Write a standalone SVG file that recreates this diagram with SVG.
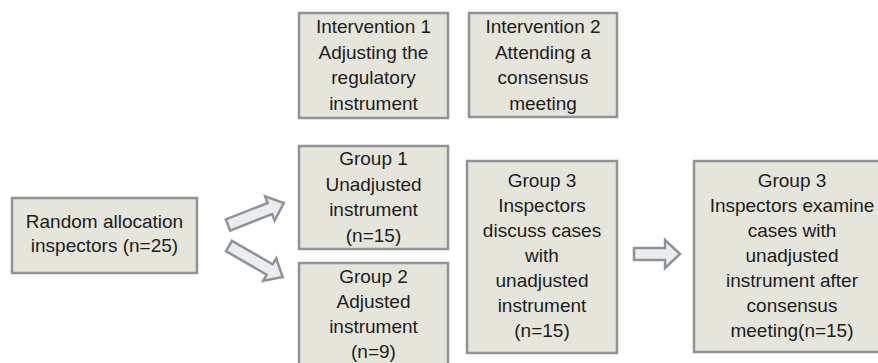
<svg xmlns="http://www.w3.org/2000/svg" width="878" height="363" viewBox="0 0 878 363">
<style>
.box{fill:#e6e5dc;stroke:#8f9397;stroke-width:2.5}
.t{font-family:"Liberation Sans",Arial,sans-serif;font-size:19px;fill:#1c1c1c;text-anchor:middle}
.arr{fill:#e9edef;stroke:#8f9397;stroke-width:2.5;stroke-linejoin:miter}
</style>
<rect width="878" height="363" fill="#ffffff"/>
<g id="intervention1">
<rect class="box" x="299" y="13" width="149" height="105"/>
<text class="t" x="373.5" y="33">Intervention 1</text>
<text class="t" x="373.5" y="59">Adjusting the</text>
<text class="t" x="373.5" y="84">regulatory</text>
<text class="t" x="373.5" y="110">instrument</text>
</g>
<g id="intervention2">
<rect class="box" x="469" y="13" width="148" height="104"/>
<text class="t" x="543" y="33">Intervention 2</text>
<text class="t" x="543" y="59">Attending a</text>
<text class="t" x="543" y="84">consensus</text>
<text class="t" x="543" y="110">meeting</text>
</g>
<g id="random">
<rect class="box" x="12" y="198" width="185" height="75"/>
<text class="t" x="104.5" y="228">Random allocation</text>
<text class="t" x="104.5" y="252">inspectors (n=25)</text>
</g>
<g id="group1">
<rect class="box" x="299" y="146" width="149" height="103"/>
<text class="t" x="373.5" y="165">Group 1</text>
<text class="t" x="373.5" y="190.5">Unadjusted</text>
<text class="t" x="373.5" y="216">instrument</text>
<text class="t" x="373.5" y="241.5">(n=15)</text>
</g>
<g id="group2">
<rect class="box" x="299" y="263" width="149" height="110"/>
<text class="t" x="373.5" y="283">Group 2</text>
<text class="t" x="373.5" y="308">Adjusted</text>
<text class="t" x="373.5" y="333">instrument</text>
<text class="t" x="373.5" y="358">(n=9)</text>
</g>
<g id="group3a">
<rect class="box" x="467" y="161" width="150" height="192"/>
<text class="t" x="542" y="187">Group 3</text>
<text class="t" x="542" y="212">Inspectors</text>
<text class="t" x="542" y="237">discuss cases</text>
<text class="t" x="542" y="262">with</text>
<text class="t" x="542" y="287">unadjusted</text>
<text class="t" x="542" y="312">instrument</text>
<text class="t" x="542" y="337">(n=15)</text>
</g>
<g id="group3b">
<rect class="box" x="694" y="161" width="200" height="191"/>
<text class="t" x="792" y="187">Group 3</text>
<text class="t" x="792" y="212">Inspectors examine</text>
<text class="t" x="792" y="237">cases with</text>
<text class="t" x="792" y="262">unadjusted</text>
<text class="t" x="792" y="287">instrument after</text>
<text class="t" x="792" y="312">consensus</text>
<text class="t" x="792" y="337">meeting(n=15)</text>
</g>
<g id="connectors">
<path class="arr" transform="translate(228,225) rotate(-21.5)" d="M0,-6 L45,-6 L45,-13 L60,0 L45,13 L45,6 L0,6 Z"/>
<path class="arr" transform="translate(229,246) rotate(30)" d="M0,-6 L47,-6 L47,-13 L62,0 L47,13 L47,6 L0,6 Z"/>
<path class="arr" d="M634,248 L665,248 L665,240 L680,254 L665,268 L665,260 L634,260 Z"/>
</g>
</svg>
